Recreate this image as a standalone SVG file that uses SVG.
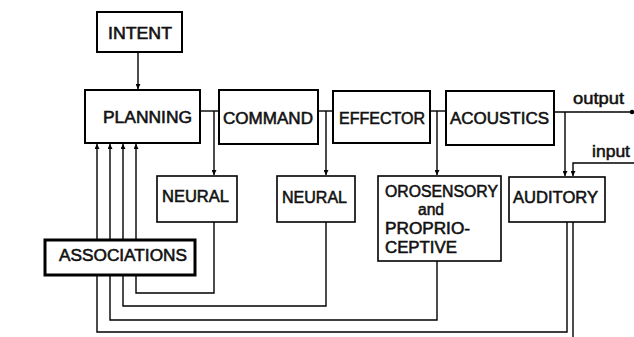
<svg xmlns="http://www.w3.org/2000/svg" width="634" height="337" viewBox="0 0 634 337">
<style>
.box{fill:#fff;stroke:#000;stroke-width:2}
.thin{fill:#fff;stroke:#000;stroke-width:1.6}
.thick{fill:#fff;stroke:#000;stroke-width:3}
.lbl{font-family:"Liberation Sans",Arial,sans-serif;font-weight:normal;font-size:16px;fill:#111;stroke:#111;stroke-width:0.55}
.sm{font-family:"Liberation Sans",Arial,sans-serif;font-weight:normal;font-size:16px;fill:#111;stroke:#111;stroke-width:0.5}
.ln{fill:none;stroke:#000;stroke-width:1.4}
</style>
<defs>
<marker id="ah" viewBox="0 0 8 8" refX="8" refY="4" markerWidth="7" markerHeight="5" markerUnits="userSpaceOnUse" orient="auto">
<path d="M0,0 L8,4 L0,8 Z" fill="#000"/>
</marker>
</defs>
<g id="connectors">
<path class="ln" d="M138,52 V89" marker-end="url(#ah)"/>
<path class="ln" d="M200,111 H219"/>
<path class="ln" d="M318,111 H333"/>
<path class="ln" d="M430,111 H446"/>
<path class="ln" d="M214,111 V175" marker-end="url(#ah)"/>
<path class="ln" d="M326,111 V175" marker-end="url(#ah)"/>
<path class="ln" d="M437,111 V175" marker-end="url(#ah)"/>
<path class="ln" d="M554,112 H633"/>
<circle cx="632" cy="112" r="2.2" fill="#000"/>
<path class="ln" d="M565,112 V176" marker-end="url(#ah)"/>
<path class="ln" d="M634,163 H573 V176" marker-end="url(#ah)"/>
<path class="ln" d="M97,240 V144" marker-end="url(#ah)"/>
<path class="ln" d="M110,240 V144" marker-end="url(#ah)"/>
<path class="ln" d="M123,240 V144" marker-end="url(#ah)"/>
<path class="ln" d="M136,240 V144" marker-end="url(#ah)"/>
<path class="ln" d="M136,276 V293 H214 V222"/>
<path class="ln" d="M123,276 V306 H326 V222"/>
<path class="ln" d="M110,276 V320 H437 V261"/>
<path class="ln" d="M97,276 V332 H567 V222"/>
<path class="ln" d="M573,222 V337"/>
</g>
<g id="intent"><rect class="box" x="97" y="12" width="85" height="40"/><text class="lbl" x="108" y="39" textLength="64" lengthAdjust="spacingAndGlyphs">INTENT</text></g>
<g id="planning"><rect class="box" x="85" y="90" width="115" height="53"/><text class="lbl" x="103" y="123" textLength="89" lengthAdjust="spacingAndGlyphs">PLANNING</text></g>
<g id="command"><rect class="box" x="219" y="90" width="99" height="54"/><text class="lbl" x="223" y="124" textLength="90" lengthAdjust="spacingAndGlyphs">COMMAND</text></g>
<g id="effector"><rect class="box" x="333" y="91" width="97" height="52"/><text class="lbl" x="339" y="124" textLength="86" lengthAdjust="spacingAndGlyphs">EFFECTOR</text></g>
<g id="acoustics"><rect class="box" x="446" y="91" width="108" height="54"/><text class="lbl" x="450" y="124" textLength="99" lengthAdjust="spacingAndGlyphs">ACOUSTICS</text></g>
<g id="neural1"><rect class="thin" x="157" y="176" width="80" height="46"/><text class="lbl" x="162" y="202" textLength="67" lengthAdjust="spacingAndGlyphs">NEURAL</text></g>
<g id="neural2"><rect class="thin" x="277" y="176" width="78" height="46"/><text class="lbl" x="282" y="203" textLength="65" lengthAdjust="spacingAndGlyphs">NEURAL</text></g>
<g id="orosensory"><rect class="thin" x="378" y="176" width="123" height="85"/>
<text class="lbl" x="385" y="197" textLength="113" lengthAdjust="spacingAndGlyphs">OROSENSORY</text>
<text class="lbl" x="418" y="215" textLength="26" lengthAdjust="spacingAndGlyphs">and</text>
<text class="lbl" x="385" y="234" textLength="85" lengthAdjust="spacingAndGlyphs">PROPRIO-</text>
<text class="lbl" x="385" y="253" textLength="72" lengthAdjust="spacingAndGlyphs">CEPTIVE</text></g>
<g id="auditory"><rect class="thin" x="509" y="177" width="96" height="45"/><text class="lbl" x="513" y="203" textLength="85" lengthAdjust="spacingAndGlyphs">AUDITORY</text></g>
<g id="associations"><rect class="thick" x="45" y="240" width="150" height="35"/><text class="lbl" x="59" y="261" textLength="128" lengthAdjust="spacingAndGlyphs">ASSOCIATIONS</text></g>
<g id="io-labels">
<text class="sm" x="573" y="104" textLength="51" lengthAdjust="spacingAndGlyphs">output</text>
<text class="sm" x="592" y="157" textLength="38" lengthAdjust="spacingAndGlyphs">input</text>
</g>
</svg>
